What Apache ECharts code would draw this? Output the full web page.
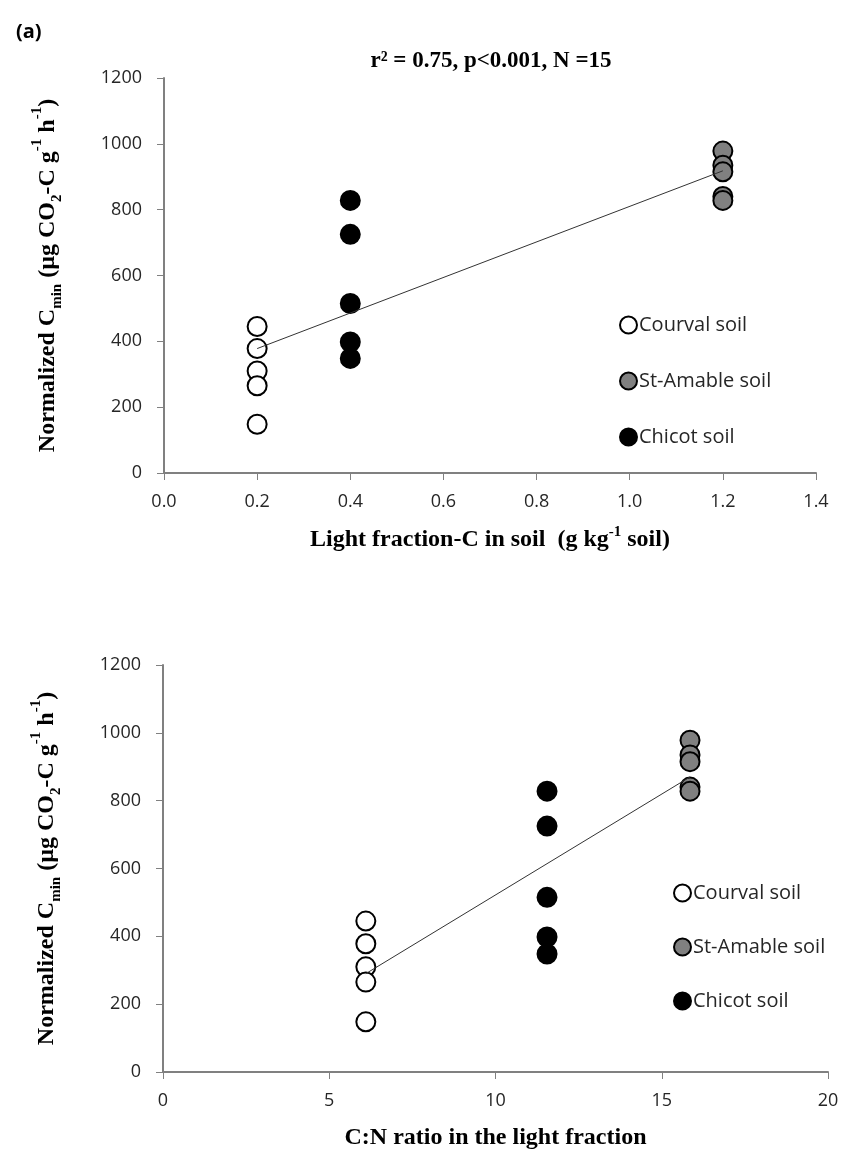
<!DOCTYPE html>
<html><head><meta charset="utf-8">
<script src="https://cdn.jsdelivr.net/npm/echarts@6/dist/echarts.min.js"></script>
<style>html,body{margin:0;padding:0;background:#fff}#c{width:842px;height:1155px}</style>
</head><body><div id="c"></div>
<script>
// ---- Data ----
const seriesNames = ['Courval soil', 'St-Amable soil', 'Chicot soil'];
// Panel 1: x = Light fraction-C in soil
const lfcCourval = [0.2, 0.2, 0.2, 0.2, 0.2];
const lfcStAmable = [1.2, 1.2, 1.2, 1.2, 1.2];
const lfcChicot = [0.4, 0.4, 0.4, 0.4, 0.4];
// Panel 2: x = C:N ratio in light fraction
const cnCourval = [6.1, 6.1, 6.1, 6.1, 6.1];
const cnStAmable = [15.85, 15.85, 15.85, 15.85, 15.85];
const cnChicot = [11.55, 11.55, 11.55, 11.55, 11.55];
// y = Normalized Cmin
const cminCourval = [445, 378, 310, 265, 148];
const cminStAmable = [978, 935, 915, 840, 828];
const cminChicot = [828, 725, 515, 398, 348];
// Regression lines (endpoints)
const trend1X = [0.2, 1.2];
const trend1Y = [378, 918];
const trend2X = [6.1, 15.85];
const trend2Y = [290, 870];
// Axis ticks
const yTicks = [0, 200, 400, 600, 800, 1000, 1200];
const x1Ticks = [0.0, 0.2, 0.4, 0.6, 0.8, 1.0, 1.2, 1.4];
const x2Ticks = [0, 5, 10, 15, 20];
const statText = 'r\u00b2 = 0.75, p<0.001, N =15';

const zip = (xs, ys) => xs.map((x, i) => [x, ys[i]]);
const fills = ['#ffffff', '#808080', '#000000'];
const tickFont = {fontFamily: 'Open Sans', fontSize: 18, color: '#262626'};
const axisLine = {show: true, lineStyle: {color: '#808080', width: 2}};
const axisTick = {show: true, inside: false, length: 7, lineStyle: {color: '#808080', width: 1}};
const serif = 'Liberation Serif';

function yAxisName() {
  return '{b|Normalized C}{s|min}{b| (\u00b5g CO}{s|2}{b|-C g}{u|-1}{b| h}{u|-1}{b|)}';
}
const nameRich = {
  b: {fontFamily: serif, fontWeight: 'bold', fontSize: 24, color: '#000', verticalAlign: 'bottom', lineHeight: 30},
  s: {fontFamily: serif, fontWeight: 'bold', fontSize: 15, color: '#000', verticalAlign: 'bottom', lineHeight: 30, padding: [0,0,-5,0]},
  u: {fontFamily: serif, fontWeight: 'bold', fontSize: 15, color: '#000', verticalAlign: 'top', lineHeight: 30, padding: [0,0,10,0]}
};

function yAx(gi) {
  return {
    gridIndex: gi, type: 'value', min: 0, max: 1200, interval: 200,
    splitLine: {show: false}, axisLine, axisTick,
    axisLabel: Object.assign({margin: 22, formatter: v => String(v)}, tickFont),
    name: yAxisName(), nameLocation: 'middle', nameGap: 104, nameRotate: 90,
    nameTextStyle: {rich: nameRich}
  };
}

function scatter(name, xi, xs, ys, fill) {
  return {
    name, type: 'scatter', xAxisIndex: xi, yAxisIndex: xi,
    data: zip(xs, ys), symbol: 'circle', symbolSize: 19,
    itemStyle: {color: fill, borderColor: '#000', borderWidth: 2, opacity: 1},
    emphasis: {disabled: true}, z: 3
  };
}

const legendText = {fontFamily: 'Open Sans', fontSize: 20, color: '#262626', padding: [0,0,0,-3]};

const option = {
  backgroundColor: '#fff',
  animation: false,
  title: [
    {text: '(a)', left: 11, top: 17, textStyle: {fontFamily: 'Open Sans', fontWeight: 'bold', fontSize: 20, color: '#000'}},
    {text: statText, left: 486, top: 45, textAlign: 'center', textStyle: {fontFamily: serif, fontWeight: 'bold', fontSize: 23, color: '#000'}}
  ],
  grid: [
    {left: 164, top: 78, width: 652, height: 395},
    {left: 163, top: 665, width: 665, height: 407}
  ],
  xAxis: [
    {gridIndex: 0, type: 'value', min: 0, max: 1.4, interval: 0.2, splitLine: {show: false}, axisLine, axisTick,
     axisLabel: Object.assign({margin: 20, formatter: v => v.toFixed(1)}, tickFont),
     name: 'Light fraction-C in soil  (g kg{u|-1} soil)', nameLocation: 'middle', nameGap: 52,
     nameTextStyle: {fontFamily: serif, fontWeight: 'bold', fontSize: 24, color: '#000', rich: nameRich}},
    {gridIndex: 1, type: 'value', min: 0, max: 20, interval: 5, splitLine: {show: false}, axisLine, axisTick,
     axisLabel: Object.assign({margin: 20, formatter: v => String(v)}, tickFont),
     name: 'C:N ratio in the light fraction', nameLocation: 'middle', nameGap: 54,
     nameTextStyle: {fontFamily: serif, fontWeight: 'bold', fontSize: 24, color: '#000'}}
  ],
  yAxis: [yAx(0), yAx(1)],
  legend: [
    {data: seriesNames, orient: 'vertical', left: 614, top: 310, itemGap: 36, itemWidth: 17, itemHeight: 17,
     icon: 'circle', selectedMode: false, textStyle: legendText},
    {data: seriesNames, orient: 'vertical', left: 668, top: 878, itemGap: 34, itemWidth: 17, itemHeight: 17,
     icon: 'circle', selectedMode: false, textStyle: legendText}
  ],
  series: [
    {name: 'trend1', type: 'line', xAxisIndex: 0, yAxisIndex: 0, data: zip(trend1X, trend1Y), symbol: 'none',
     lineStyle: {color: '#333', width: 1}, z: 4, silent: true},
    {name: 'trend2', type: 'line', xAxisIndex: 1, yAxisIndex: 1, data: zip(trend2X, trend2Y), symbol: 'none',
     lineStyle: {color: '#333', width: 1}, z: 4, silent: true},
    scatter(seriesNames[0], 0, lfcCourval, cminCourval, fills[0]),
    scatter(seriesNames[1], 0, lfcStAmable, cminStAmable, fills[1]),
    scatter(seriesNames[2], 0, lfcChicot, cminChicot, fills[2]),
    scatter(seriesNames[0], 1, cnCourval, cminCourval, fills[0]),
    scatter(seriesNames[1], 1, cnStAmable, cminStAmable, fills[1]),
    scatter(seriesNames[2], 1, cnChicot, cminChicot, fills[2])
  ]
};
const chart = echarts.init(document.getElementById('c'), null, {renderer: 'canvas'});
chart.setOption(option);
</script>
</body></html>
